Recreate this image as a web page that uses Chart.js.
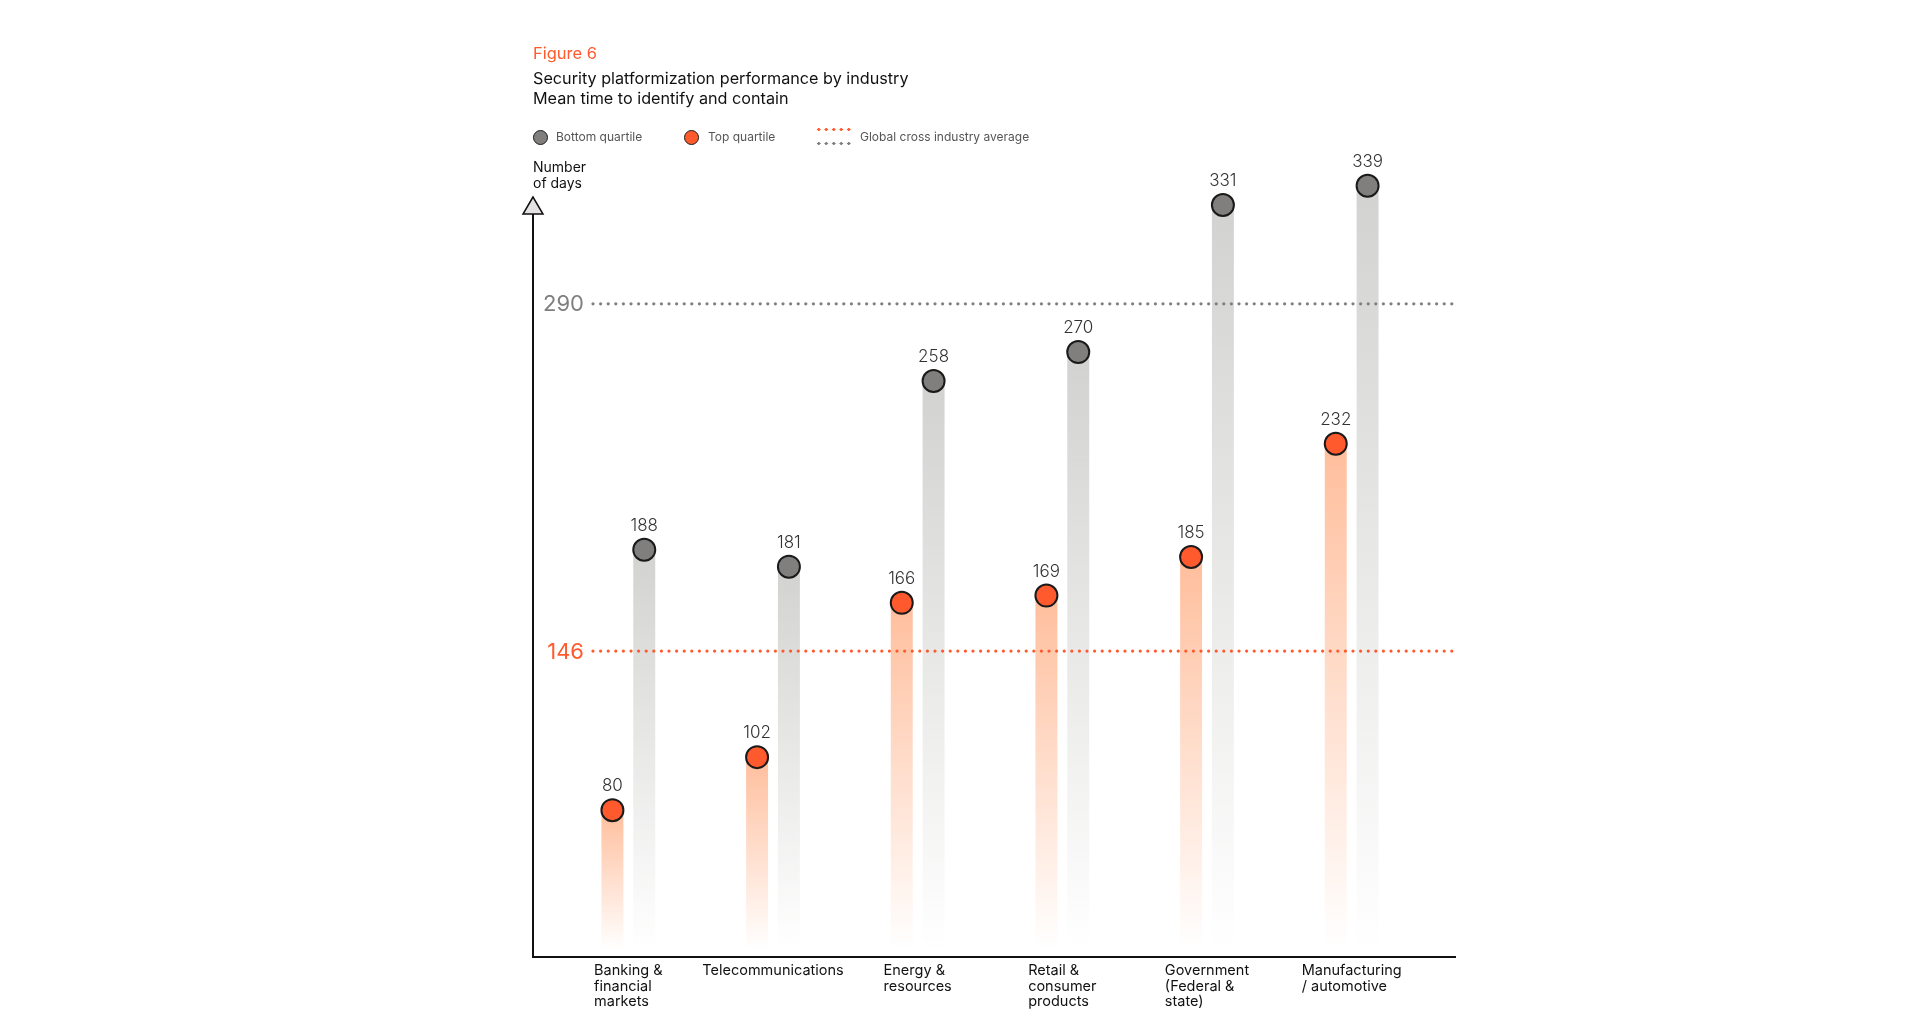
<!DOCTYPE html>
<html>
<head>
<meta charset="utf-8">
<title>Figure 6</title>
<script src="https://cdn.jsdelivr.net/npm/chart.js@4.4.0/dist/chart.umd.min.js"></script>
<style>
  body { margin: 0; background: #fff; font-family: Inter, "Liberation Sans", Arial, sans-serif; }
  #wrap { position: relative; width: 1920px; height: 1034px; overflow: hidden; }
  #chart { position: absolute; left: 0; top: 0; }
  .txt { position: absolute; white-space: nowrap; }
  .dot { position: absolute; width: 15px; height: 15px; border-radius: 50%; border: 1.5px solid #1a1a1a; box-sizing: border-box; }
  .dash { position: absolute; width: 36px; height: 3px; }
</style>
</head>
<body>
<div id="wrap">
  <canvas id="chart" width="1920" height="1034"></canvas>

  <div class="txt" style="left:533px;top:43px;font-size:16.5px;line-height:20px;color:#ff5a2e;">Figure 6</div>
  <div class="txt" style="left:533px;top:68px;font-size:16.2px;line-height:20px;color:#111;">Security platformization performance by industry<br>Mean time to identify and contain</div>

  <!-- leyenda -->
  <div class="dot" style="left:533px;top:130px;background:#817e7e;"></div>
  <div class="txt" style="left:556px;top:129px;font-size:12px;line-height:16px;color:#555;">Bottom quartile</div>
  <div class="dot" style="left:684px;top:130px;background:#ff5a2e;"></div>
  <div class="txt" style="left:708px;top:129px;font-size:12px;line-height:16px;color:#555;">Top quartile</div>
  <div class="dash" style="left:815px;top:128px;background:radial-gradient(circle, #ff5a2e 1.5px, transparent 1.7px) 0 0/7.5px 3px repeat-x;"></div>
  <div class="dash" style="left:815px;top:142px;background:radial-gradient(circle, #7f7f7f 1.5px, transparent 1.7px) 0 0/7.5px 3px repeat-x;"></div>
  <div class="txt" style="left:860px;top:129px;font-size:12px;line-height:16px;color:#555;">Global cross industry average</div>

  <div class="txt" style="left:533px;top:159px;font-size:14px;line-height:16px;color:#111;">Number<br>of days</div>
</div>

<script>
// Datos del gráfico
const industries = [
  ['Banking &', 'financial', 'markets'],
  ['Telecommunications'],
  ['Energy &', 'resources'],
  ['Retail &', 'consumer', 'products'],
  ['Government', '(Federal &', 'state)'],
  ['Manufacturing', '/ automotive']
];
const topQuartile = [80, 102, 166, 169, 185, 232];
const bottomQuartile = [188, 181, 258, 270, 331, 339];
const topAverage = 146;
const bottomAverage = 290;

const ORANGE = '#ff5a2e';
const GREY = '#817e7e';
const FONT = 'Inter, "Liberation Sans", Arial, sans-serif';

// Degradado vertical de cada barra: color arriba, transparente abajo
function fade(rgb) {
  return (c) => {
    const chart = c.chart;
    const area = chart.chartArea;
    if (!area || c.raw == null) return 'rgba(' + rgb + ',1)';
    const yTop = chart.scales.y.getPixelForValue(c.raw);
    const g = chart.ctx.createLinearGradient(0, yTop, 0, area.bottom - 8);
    g.addColorStop(0, 'rgba(' + rgb + ',1)');
    g.addColorStop(1, 'rgba(' + rgb + ',0)');
    return g;
  };
}

function dottedLine(ctx, x0, x1, y, color) {
  ctx.save();
  ctx.fillStyle = color;
  for (let x = x0; x <= x1; x += 7.6) {
    ctx.beginPath();
    ctx.arc(x, y, 1.6, 0, Math.PI * 2);
    ctx.fill();
  }
  ctx.restore();
}

// Ejes con flecha, líneas de promedio, puntos y etiquetas
const decorations = {
  id: 'decorations',
  beforeDatasetsDraw(chart) {
    const ctx = chart.ctx;
    const a = chart.chartArea;
    const axisX = a.left - 23;
    ctx.save();
    ctx.strokeStyle = '#111';
    ctx.lineWidth = 2;
    ctx.beginPath();
    ctx.moveTo(axisX, a.top + 83);
    ctx.lineTo(axisX, a.bottom);
    ctx.lineTo(a.right + 32, a.bottom);
    ctx.stroke();
    // flecha
    ctx.beginPath();
    ctx.moveTo(axisX, a.top + 66);
    ctx.lineTo(axisX - 10, a.top + 83);
    ctx.lineTo(axisX + 10, a.top + 83);
    ctx.closePath();
    ctx.fillStyle = '#e4e2e2';
    ctx.fill();
    ctx.lineWidth = 1.5;
    ctx.stroke();
    ctx.restore();
  },
  afterDatasetsDraw(chart) {
    const ctx = chart.ctx;
    const a = chart.chartArea;
    const y = chart.scales.y;
    const x = chart.scales.x;

    // promedios globales
    [[bottomAverage, '#7f7f7f'], [topAverage, ORANGE]].forEach(([v, col]) => {
      const py = y.getPixelForValue(v);
      dottedLine(ctx, a.left + 37, a.right + 32, py, col);
      ctx.save();
      ctx.fillStyle = col;
      ctx.font = '22px ' + FONT;
      ctx.textAlign = 'right';
      ctx.textBaseline = 'middle';
      ctx.fillText(String(v), a.left + 28, py + 1);
      ctx.restore();
    });

    // puntos y valores
    const fills = [ORANGE, GREY];
    chart.data.datasets.forEach((ds, di) => {
      const meta = chart.getDatasetMeta(di);
      meta.data.forEach((bar, i) => {
        ctx.save();
        ctx.beginPath();
        ctx.arc(bar.x, bar.y, 11, 0, Math.PI * 2);
        ctx.fillStyle = fills[di];
        ctx.fill();
        ctx.lineWidth = 2;
        ctx.strokeStyle = '#1a1a1a';
        ctx.stroke();
        ctx.fillStyle = '#333';
        ctx.font = '300 17px ' + FONT;
        ctx.textAlign = 'center';
        ctx.textBaseline = 'middle';
        ctx.fillText(String(ds.data[i]), bar.x, bar.y - 24);
        ctx.restore();
      });
    });

    // etiquetas de categoría (bloque alineado a la izquierda y centrado)
    ctx.save();
    ctx.font = '14.5px ' + FONT;
    ctx.fillStyle = '#111';
    ctx.textAlign = 'left';
    ctx.textBaseline = 'middle';
    industries.forEach((lines, i) => {
      const cx = x.getPixelForValue(i);
      const w = Math.max(...lines.map(l => ctx.measureText(l).width));
      lines.forEach((l, k) => ctx.fillText(l, cx - w / 2, a.bottom + 14 + k * 15.5));
    });
    ctx.restore();
  }
};

new Chart(document.getElementById('chart'), {
  type: 'bar',
  data: {
    labels: industries,
    datasets: [
      {
        label: 'Top quartile',
        data: topQuartile,
        backgroundColor: fade('255,190,156'),
        borderWidth: 0,
        categoryPercentage: 0.44,
        barPercentage: 0.69
      },
      {
        label: 'Bottom quartile',
        data: bottomQuartile,
        backgroundColor: fade('210,210,208'),
        borderWidth: 0,
        categoryPercentage: 0.44,
        barPercentage: 0.69
      }
    ]
  },
  options: {
    responsive: false,
    devicePixelRatio: 1,
    animation: false,
    layout: { padding: { left: 556, right: 496, top: 131, bottom: 77 } },
    plugins: { legend: { display: false }, tooltip: { enabled: false } },
    scales: {
      x: { display: false, offset: true, grid: { display: false } },
      y: { display: false, min: 19.1, max: 361.7 }
    }
  },
  plugins: [decorations]
});
</script>
</body>
</html>
